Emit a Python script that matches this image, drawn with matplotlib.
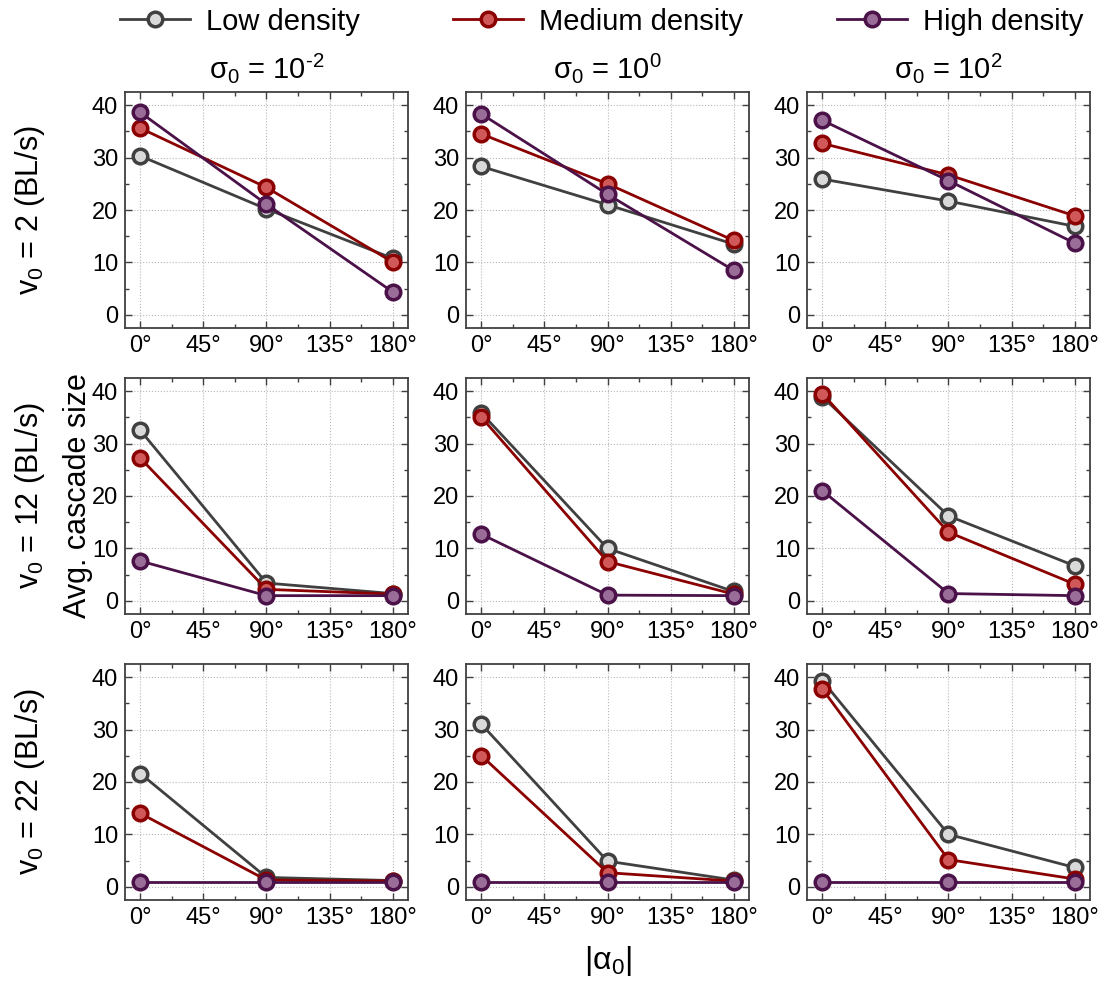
import numpy as np
import matplotlib
matplotlib.use("Agg")
import matplotlib.pyplot as plt
from matplotlib.ticker import MultipleLocator, FuncFormatter

plt.rcParams["font.family"] = ["Liberation Sans", "DejaVu Sans"]
plt.rcParams["mathtext.fontset"] = "custom"
plt.rcParams["mathtext.rm"] = "Liberation Sans"
plt.rcParams["mathtext.it"] = "Liberation Sans"
plt.rcParams["mathtext.default"] = "rm"

# x positions (|alpha_0| in degrees)
angles = [0, 90, 180]

# rows: v0 = 2, 12, 22 ; columns: sigma0 = 1e-2, 1e0, 1e2
row_labels = ["$v_0$ = 2 (BL/s)", "$v_0$ = 12 (BL/s)", "$v_0$ = 22 (BL/s)"]
col_titles = ["$\\sigma_0$ = 10$^{\\text{-}2}$", "$\\sigma_0$ = 10$^{0}$", "$\\sigma_0$ = 10$^{2}$"]
series_names = ["Low density", "Medium density", "High density"]

low = [
    [[30.3, 20.2, 10.8], [28.3, 21.0, 13.5], [25.9, 21.7, 16.9]],
    [[32.5, 3.4, 1.4], [35.8, 10.0, 1.8], [38.9, 16.2, 6.7]],
    [[21.6, 1.8, 1.2], [31.0, 4.9, 1.3], [39.3, 10.0, 3.7]],
]
medium = [
    [[35.6, 24.3, 10.1], [34.5, 25.0, 14.2], [32.7, 26.7, 18.9]],
    [[27.2, 2.2, 1.3], [35.0, 7.5, 1.3], [39.5, 13.1, 3.2]],
    [[14.0, 1.3, 1.1], [25.0, 2.7, 1.1], [37.7, 5.2, 1.5]],
]
high = [
    [[38.6, 21.1, 4.4], [38.3, 23.0, 8.5], [37.1, 25.6, 13.7]],
    [[7.6, 1.0, 1.0], [12.7, 1.1, 1.0], [21.0, 1.4, 1.0]],
    [[1.0, 1.0, 1.0], [1.0, 1.0, 1.0], [1.0, 1.0, 1.0]],
]

styles = [
    dict(color="#404040", mfc="#d9d9d9", mec="#404040"),
    dict(color="#8b0000", mfc="#d05858", mec="#8b0000"),
    dict(color="#4a1248", mfc="#9a6c98", mec="#4a1248"),
]

fig = plt.figure(figsize=(11.02, 9.81), dpi=100)

lefts = [0.1134, 0.4229, 0.7323]
bottoms = [0.6656, 0.3741, 0.0826]
w, h = 0.2568, 0.2406

handles = []
for r in range(3):
    for c in range(3):
        ax = fig.add_axes([lefts[c], bottoms[r], w, h])
        for k, data in enumerate([low, medium, high]):
            st = styles[k]
            ln, = ax.plot(angles, data[r][c], "-o", color=st["color"], lw=2,
                          marker="o", ms=10.5, mfc=st["mfc"], mec=st["mec"], mew=2.5,
                          label=series_names[k], zorder=3 + k)
            if r == 0 and c == 0:
                handles.append(ln)
        ax.set_xlim(-11, 191)
        ax.set_ylim(-2.5, 42.5)
        ax.xaxis.set_major_locator(MultipleLocator(45))
        ax.xaxis.set_minor_locator(MultipleLocator(22.5))
        ax.yaxis.set_major_locator(MultipleLocator(10))
        ax.yaxis.set_minor_locator(MultipleLocator(5))
        ax.xaxis.set_major_formatter(FuncFormatter(lambda v, p: f"{int(v)}°"))
        ax.grid(True, which="major", ls=":", color="#b8b8b8", lw=0.8)
        ax.tick_params(which="both", direction="in", top=True, right=True,
                       color="#404040", labelsize=17, pad=5)
        ax.tick_params(which="major", length=5, width=1)
        ax.tick_params(which="minor", length=3, width=1)
        for sp in ax.spines.values():
            sp.set_color("#404040")
            sp.set_linewidth(1.3)
        if r == 0:
            ax.set_title(col_titles[c], fontsize=21, pad=10)
    fig.text(0.027, bottoms[r] + h / 2, row_labels[r], rotation=90,
             ha="center", va="center", fontsize=22)

fig.text(0.071, bottoms[1] + h / 2, "Avg. cascade size", rotation=90,
         ha="center", va="center", fontsize=22)
fig.text(lefts[1] + w / 2, 0.02, "|$\\alpha_0$|", ha="center", va="center", fontsize=23)

fig.legend(handles=handles, loc="upper center", bbox_to_anchor=(0.546, 1.019), ncol=3,
           frameon=False, fontsize=21, handlelength=2.4, handletextpad=0.55,
           columnspacing=3.2)

fig.savefig("out.png", dpi=100)
